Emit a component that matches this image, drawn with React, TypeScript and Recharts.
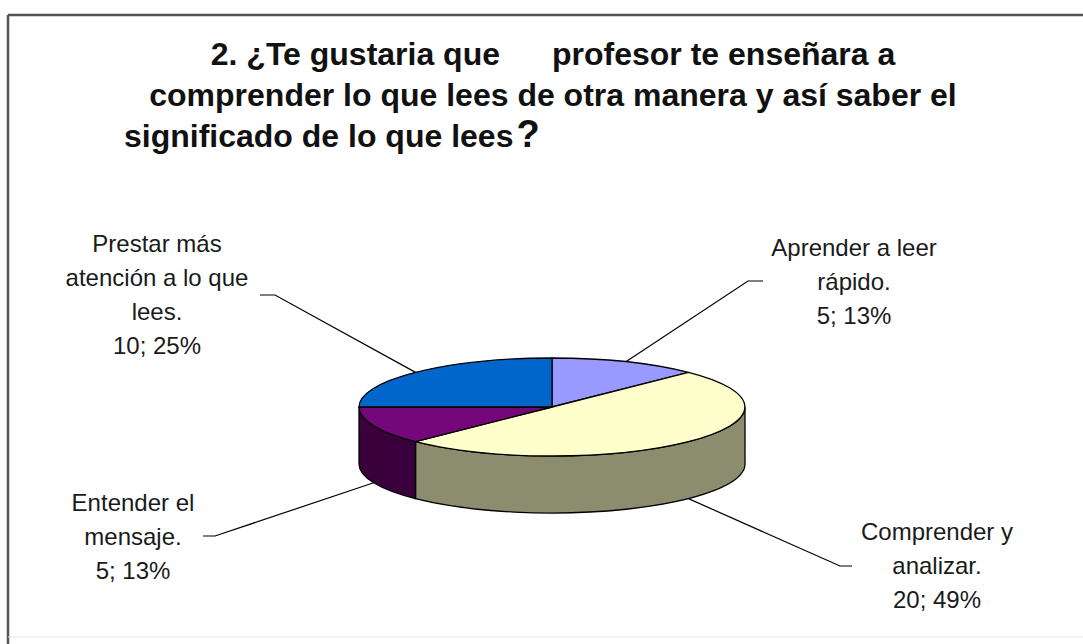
import { PieChart, Pie } from 'recharts'

const categories = [
  'Aprender a leer rápido.',
  'Comprender y analizar.',
  'Entender el mensaje.',
  'Prestar más atención a lo que lees.',
]
const labelLines = [
  ['Aprender a leer', 'rápido.'],
  ['Comprender y', 'analizar.'],
  ['Entender el', 'mensaje.'],
  ['Prestar más', 'atención a lo que', 'lees.'],
]
const counts = [5, 20, 5, 10]
const percents = [13, 49, 13, 25]

const topColors = ['#9999FF', '#FFFFCC', '#74087A', '#0066CC']
const sideColors = ['#5C5C99', '#8C8C6E', '#3A003C', '#003D7A']

const W = 1083
const H = 644
const CX = 552
const CY = 407
const RX = 193
const TILT = 49 / 193
const DEPTH = 57
const RAD = Math.PI / 180
const FONT = '"Liberation Sans", Arial, sans-serif'

// where each label sits (elbow of the leader line, text centre, first baseline)
const labelLayout = [
  { elbowX: 748, elbowY: 281, endX: 763, textX: 854, textY: 256 },
  { elbowX: 840, elbowY: 566, endX: 852, textX: 937, textY: 540 },
  { elbowX: 215, elbowY: 536, endX: 203, textX: 133, textY: 511 },
  { elbowX: 275, elbowY: 295, endX: 260, textX: 157, textY: 252 },
]

const data = categories.map((name, i) => ({
  name,
  value: counts[i],
  fill: topColors[i],
  side: sideColors[i],
  idx: i,
}))

function pt(cx: number, cy: number, rx: number, a: number, dy = 0) {
  const ry = rx * TILT
  return [cx + rx * Math.cos(a * RAD), cy - ry * Math.sin(a * RAD) + dy]
}

function Slice3D(props: any) {
  const { cx, cy, outerRadius, startAngle, endAngle } = props
  const payload = props.payload ?? props
  const rx = outerRadius
  const ry = rx * TILT
  const s = Math.max(startAngle, endAngle)
  const e = Math.min(startAngle, endAngle)
  const [x1, y1] = pt(cx, cy, rx, s)
  const [x2, y2] = pt(cx, cy, rx, e)
  const large = s - e > 180 ? 1 : 0
  const top = `M${cx},${cy} L${x1},${y1} A${rx},${ry} 0 ${large} 1 ${x2},${y2} Z`

  const sides: string[] = []
  for (const off of [-360, 0, 360]) {
    const hi = Math.min(s, 0 + off)
    const lo = Math.max(e, -180 + off)
    if (hi > lo) {
      const [a1x, a1y] = pt(cx, cy, rx, hi)
      const [a2x, a2y] = pt(cx, cy, rx, lo)
      sides.push(
        `M${a1x},${a1y} A${rx},${ry} 0 0 1 ${a2x},${a2y} L${a2x},${a2y + DEPTH} A${rx},${ry} 0 0 0 ${a1x},${a1y + DEPTH} Z`
      )
    }
  }

  return (
    <g>
      {sides.map((d, k) => (
        <path key={k} d={d} fill={payload.side} stroke="#000" strokeWidth={1.3} />
      ))}
      <path d={top} fill={payload.fill} stroke="#000" strokeWidth={1.3} />
    </g>
  )
}

function SliceLabel(props: any) {
  const { cx, cy, midAngle, outerRadius } = props
  const i = props.index ?? props.payload?.idx ?? 0
  const lay = labelLayout[i]
  const front = Math.sin(midAngle * RAD) < 0
  const [ax, ay] = pt(cx, cy, outerRadius, midAngle, front ? DEPTH : 0)
  const lines = [...labelLines[i], `${counts[i]}; ${percents[i]}%`]
  return (
    <g>
      <polyline
        points={`${ax},${ay} ${lay.elbowX},${lay.elbowY} ${lay.endX},${lay.elbowY}`}
        fill="none"
        stroke="#000"
        strokeWidth={1.2}
      />
      <text
        x={lay.textX}
        y={lay.textY}
        textAnchor="middle"
        fontFamily={FONT}
        fontSize={24}
        fill="#1a1a1a"
      >
        {lines.map((l, k) => (
          <tspan key={k} x={lay.textX} dy={k === 0 ? 0 : 34}>
            {l}
          </tspan>
        ))}
      </text>
    </g>
  )
}

export default function App() {
  return (
    <div style={{ position: 'absolute', left: 0, top: 0, width: W, height: H, background: '#fff' }}>
      <svg width={W} height={H} style={{ position: 'absolute', left: 0, top: 0 }}>
        <line x1={8} y1={15} x2={W} y2={15} stroke="#555" strokeWidth={2.5} />
        <line x1={8} y1={15} x2={8} y2={H} stroke="#555" strokeWidth={2.5} />
        <line x1={8} y1={637} x2={W} y2={637} stroke="#e4e4e4" strokeWidth={1} />
        <g fontFamily={FONT} fontWeight="bold" fontSize={32} fill="#111">
          <text x={500} y={65} textAnchor="end">2. ¿Te gustaria que</text>
          <text x={552} y={65}>profesor te enseñara a</text>
          <text x={553} y={106} textAnchor="middle">
            comprender lo que lees de otra manera y así saber el
          </text>
          <text x={124} y={147}>
            significado de lo que lees
            <tspan fontSize={38} dx={3}>?</tspan>
          </text>
        </g>
      </svg>
      <div style={{ position: 'absolute', left: 0, top: 0 }}>
        <PieChart width={W} height={H} margin={{ top: 0, right: 0, bottom: 0, left: 0 }}>
          <Pie
            data={data}
            dataKey="value"
            nameKey="name"
            cx={CX}
            cy={CY}
            outerRadius={RX}
            startAngle={90}
            endAngle={-270}
            isAnimationActive={false}
            shape={Slice3D}
            inactiveShape={Slice3D}
            activeShape={Slice3D}
            label={SliceLabel}
            labelLine={false}
          />
        </PieChart>
      </div>
    </div>
  )
}
